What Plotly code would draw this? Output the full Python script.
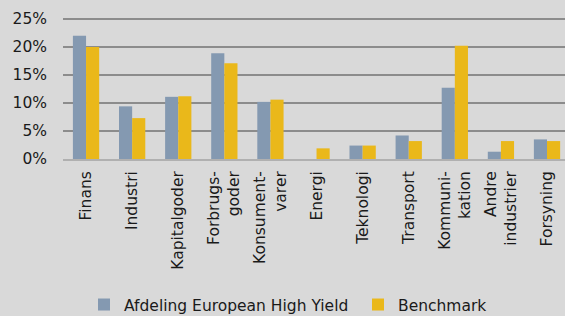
import plotly.graph_objects as go

categories = ["Finans", "Industri", "Kapitalgoder", "Forbrugs-<br>goder", "Konsument-<br>varer",
              "Energi", "Teknologi", "Transport", "Kommuni-<br>kation", "Andre<br>industrier", "Forsyning"]
fund = [22.0, 9.4, 11.1, 18.9, 10.2, 0.0, 2.4, 4.2, 12.7, 1.3, 3.5]
bench = [20.0, 7.3, 11.2, 17.1, 10.6, 1.9, 2.4, 3.2, 20.2, 3.2, 3.2]
yticks = [0, 5, 10, 15, 20, 25]
ytick_labels = ["0%", "5%", "10%", "15%", "20%", "25%"]

fig = go.Figure()
fig.add_trace(go.Bar(x=categories, y=fund, name="Afdeling European High Yield", legend="legend",
                     marker=dict(color="#8499B1", line=dict(width=0))))
fig.add_trace(go.Bar(x=categories, y=bench, name="Benchmark", legend="legend2",
                     marker=dict(color="#EAB81A", line=dict(width=0))))

legend_common = dict(orientation="h", xref="container", xanchor="left",
                     yref="container", y=0.035, yanchor="middle", font=dict(size=15.5),
                     bgcolor="rgba(0,0,0,0)")

fig.update_layout(
    width=565, height=316,
    paper_bgcolor="#D9D9D9", plot_bgcolor="#D9D9D9",
    margin=dict(l=63, r=0, t=15, b=157),
    barmode="group", bargap=0.43, bargroupgap=0.0,
    font=dict(family="DejaVu Sans", color="#1A1A1A", size=15.5),
    legend=dict(x=84 / 565, **legend_common),
    legend2=dict(x=358 / 565, **legend_common),
    showlegend=True,
)
fig.update_yaxes(range=[0, 25.71], tickvals=yticks, ticktext=ytick_labels, tickfont=dict(size=15.5),
                 showgrid=True, gridcolor="#8C8C8C", gridwidth=2, zeroline=False,
                 showline=False, ticks="", ticklabelstandoff=15)
fig.update_xaxes(range=[-0.5, 10.39], tickangle=-90, tickfont=dict(size=15.5), showline=True,
                 linecolor="#B0B0B0", linewidth=2, ticks="outside", ticklen=4, tickcolor="rgba(0,0,0,0)",
                 showgrid=False)

fig.write_html("out.html", config={"displayModeBar": False},
               post_script="document.body.style.margin='0';document.body.style.overflow='hidden';")
